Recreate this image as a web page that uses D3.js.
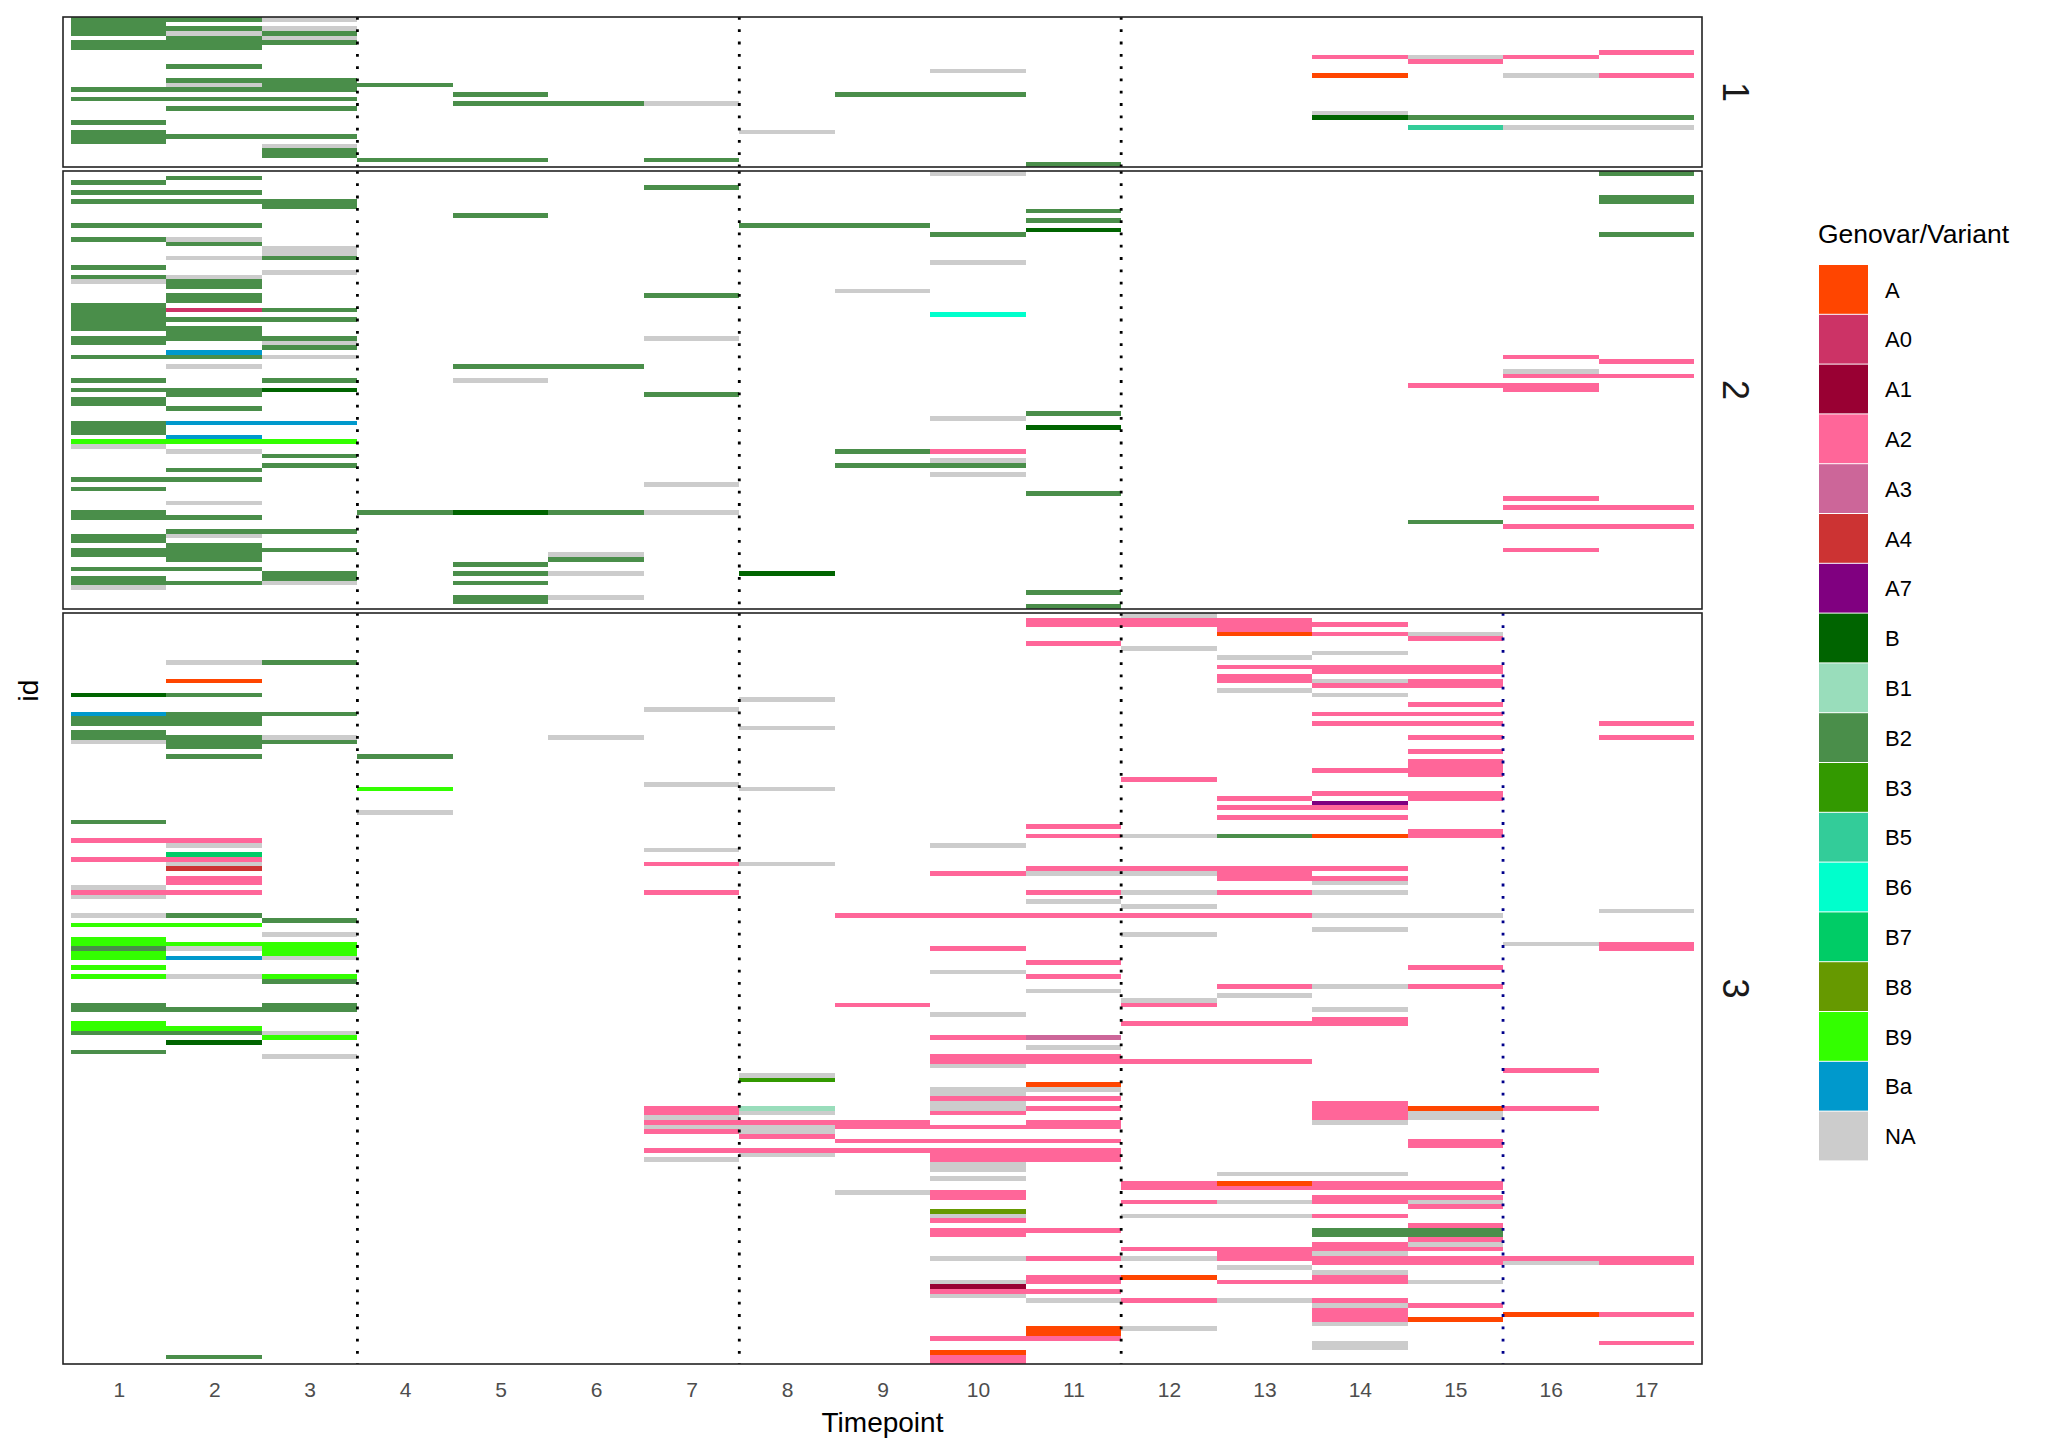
<!DOCTYPE html>
<html>
<head>
<meta charset="utf-8">
<script src="https://cdn.jsdelivr.net/npm/d3@7"></script>
<style>
  html, body { margin: 0; padding: 0; background: #fff; }
  svg { display: block; font-family: "Liberation Sans", Arial, Helvetica, sans-serif; }
</style>
</head>
<body>
<div id="chart"></div>
<script>
// x categories
const timepoints = [1, 2, 3, 4, 5, 6, 7, 8, 9, 10, 11, 12, 13, 14, 15, 16, 17];

// legend order + fills
const variants = ['A', 'A0', 'A1', 'A2', 'A3', 'A4', 'A7', 'B', 'B1', 'B2', 'B3', 'B5', 'B6', 'B7', 'B8', 'B9', 'Ba', 'NA'];
const variantColors = ['#FF4500', '#CC3366', '#990033', '#FF6699', '#CC6699', '#CC3333', '#800080', '#006400',
    '#99DDBB', '#4A8E4A', '#339900', '#33CC99', '#00FFCC', '#00CC66', '#669900', '#33FF00', '#0099CC', '#CCCCCC'];

// one char per timepoint in every id row, '.' = nothing sampled
const variantCodes = { 'A': 'A', '0': 'A0', '1': 'A1', '2': 'A2', '3': 'A3', '4': 'A4', '7': 'A7', 'B': 'B',
    'c': 'B1', 'g': 'B2', 'd': 'B3', 'e': 'B5', 'f': 'B6', 'h': 'B7', 'i': 'B8', 'j': 'B9', 'k': 'Ba', 'n': 'NA' };

// groups of 4 timepoints: 1-4 5-8 9-12 13-16 17
const group1Rows = [
    'ggn. .... .... .... .', 'g... .... .... .... .', 'ggn. .... .... .... .', 'gng. .... .... .... .',
    '.gn. .... .... .... .', 'ggg. .... .... .... .', 'gg.. .... .... .... .', '.... .... .... .... 2',
    '.... .... .... .2n2 .', '.... .... .... ..2. .', '.g.. .... .... .... .', '.... .... .n.. .... .',
    '.... .... .... .A.n 2', '.gg. .... .... .... .', '.ngg .... .... .... .', 'ggg. .... .... .... .',
    '.... g... gg.. .... .', 'ggg. .... .... .... .', '.... ggn. .... .... .', '.gg. .... .... .... .',
    '.... .... .... .n.. .', '.... .... .... .Bgg g', 'g... .... .... .... .', '.... .... .... ..en n',
    'g... ...n .... .... .', 'ggg. .... .... .... .', 'g... .... .... .... .', '..n. .... .... .... .',
    '..g. .... .... .... .', '..g. .... .... .... .', '...g g.g. .... .... .', '.... .... ..g. .... .'
];

const group2Rows = [
    '.... .... .n.. .... g', '.g.. .... .... .... .', 'g... .... .... .... .', '.... ..g. .... .... .',
    'gg.. .... .... .... .', '.... .... .... .... g', 'ggg. .... .... .... g', '..g. .... .... .... .',
    '.... .... ..g. .... .', '.... g... .... .... .', '.... .... ..g. .... .', 'gg.. ...g g... .... .',
    '.... .... ..B. .... .', '.... .... .g.. .... g', 'gn.. .... .... .... .', '.g.. .... .... .... .',
    '..n. .... .... .... .', '..n. .... .... .... .', '.ng. .... .... .... .', '.... .... .n.. .... .',
    'g... .... .... .... .', '..n. .... .... .... .', 'gn.. .... .... .... .', 'ng.. .... .... .... .',
    '.g.. .... .... .... .', '.... .... n... .... .', '.g.. ..g. .... .... .', '.g.. .... .... .... .',
    'g... .... .... .... .', 'g0g. .... .... .... .', 'g... .... .f.. .... .', 'ggg. .... .... .... .',
    'g... .... .... .... .', 'gg.. .... .... .... .', '.g.. .... .... .... .', 'ggg. ..n. .... .... .',
    'g.n. .... .... .... .', '..g. .... .... .... .', '.k.. .... .... .... .', 'ggn. .... .... ...2 .',
    '.... .... .... .... 2', '.n.. gg.. .... .... .', '.... .... .... ...n .', '.... .... .... ...2 2',
    'g.g. n... .... .... .', '.... .... .... ..22 .', 'ggB. .... .... ...2 .', '.g.. ..g. .... .... .',
    'g... .... .... .... .', 'g... .... .... .... .', '.g.. .... .... .... .', '.... .... ..g. .... .',
    '.... .... .n.. .... .', 'gkk. .... .... .... .', 'g... .... ..B. .... .', 'g... .... .... .... .',
    '.k.. .... .... .... .', 'jjj. .... .... .... .', 'n... .... .... .... .', '.n.. .... g2.. .... .',
    '..g. .... .... .... .', '.... .... .n.. .... .', '..g. .... gg.. .... .', '.g.. .... .... .... .',
    '.... .... .n.. .... .', 'gg.. .... .... .... .', '.... ..n. .... .... .', 'g... .... .... .... .',
    '.... .... ..g. .... .', '.... .... .... ...2 .', '.n.. .... .... .... .', '.... .... .... ...2 2',
    'g..g Bgn. .... .... .', 'gg.. .... .... .... .', '.... .... .... ..g. .', '.... .... .... ...2 2',
    '.gg. .... .... .... .', 'gn.. .... .... .... .', 'g... .... .... .... .', '.g.. .... .... .... .',
    'ggg. .... .... ...2 .', 'gg.. .n.. .... .... .', '.g.. .g.. .... .... .', '.... g... .... .... .',
    'gg.. .... .... .... .', '..g. gn.B .... .... .', 'g.g. .... .... .... .', 'ggn. g... .... .... .',
    'n... .... .... .... .', '.... .... ..g. .... .', '.... gn.. .... .... .', '.... g... .... .... .',
    '.... .... ..g. .... .'
];

const group3Rows = [
    '.... .... ...n .... .', '.... .... ..22 2... .', '.... .... ..22 22.. .', '.... .... .... 2... .',
    '.... .... .... A2n. .', '.... .... .... ..2. .', '.... .... ..2. .... .', '.... .... ...n .... .',
    '.... .... .... .n.. .', '.... .... .... n... .', '.ng. .... .... .... .', '.... .... .... 222. .',
    '.... .... .... .22. .', '.... .... .... 2... .', '.A.. .... .... 2n2. .', '.... .... .... .22. .',
    '.... .... .... n... .', 'Bg.. .... .... .n.. .', '.... ...n .... .... .', '.... .... .... ..2. .',
    '.... ..n. .... .... .', 'kgg. .... .... .22. .', 'gg.. .... .... .... .', 'gg.. .... .... .22. 2',
    '.... ...n .... .... .', 'g... .... .... .... .', 'ggn. .n.. .... ..2. 2', 'ngg. .... .... .... .',
    '.g.. .... .... .... .', '.... .... .... ..2. .', '.g.g .... .... .... .', '.... .... .... ..2. .',
    '.... .... .... ..2. .', '.... .... .... .22. .', '.... .... .... ..2. .', '.... .... ...2 .... .',
    '.... ..n. .... .... .', '...j ...n .... .... .', '.... .... .... .22. .', '.... .... .... 2.2. .',
    '.... .... .... .7.. .', '.... .... .... 22.. .', '...n .... .... .... .', '.... .... .... 22.. .',
    'g... .... .... .... .', '.... .... ..2. .... .', '.... .... .... ..2. .', '.... .... ..2n gA2. .',
    '22.. .... .... .... .', '.n.. .... .n.. .... .', '.... ..n. .... .... .', '.h.. .... .... .... .',
    '22.. .... .... .... .', '.n.. ..2n .... .... .', '.4.. .... ..22 22.. .', '.... .... .2nn 2... .',
    '.2.. .... .... 22.. .', '.2.. .... .... .n.. .', 'n... .... .... .... .', '22.. ..2. ..2n 2n.. .',
    'n... .... .... .... .', '.... .... ..n. .... .', '.... .... ...n .... .', '.... .... .... .... n',
    'ng.. .... 2222 2nn. .', '..g. .... .... .... .', 'jj.. .... .... .... .', '.... .... .... .n.. .',
    '..n. .... ...n .... .', 'j... .... .... .... .', 'jjj. .... .... ...n 2', 'gnj. .... .2.. .... 2',
    'j.j. .... .... .... .', 'jkn. .... .... .... .', '.... .... ..2. .... .', 'j... .... .... ..2. .',
    '.... .... .n.. .... .', 'jnj. .... ..2. .... .', '..g. .... .... .... .', '.... .... .... 2n2. .',
    '.... .... ..n. .... .', '.... .... .... n... .', '.... .... ...n .... .', 'g.g. .... 2..2 .... .',
    'ggg. .... .... .n.. .', '.... .... .n.. .... .', '.... .... .... .2.. .', 'j... .... ...2 22.. .',
    'jj.. .... .... .... .', 'ggn. .... .... .... .', '..j. .... .23. .... .', '.B.. .... .... .... .',
    '.... .... ..n. .... .', 'g... .... .... .... .', '..n. .... .22. .... .', '.... .... .222 2... .',
    '.... .... .n.. .... .', '.... .... .... ...2 .', '.... ...n .... .... .', '.... ...d .... .... .',
    '.... .... ..A. .... .', '.... .... .nn. .... .', '.... .... .n.. .... .', '.... .... .22. .... .',
    '.... .... .n.. .2.. .', '.... ..2c .n2. .2A2 .', '.... ..2n .2.. .2n. .', '.... ..n. .... .2n. .',
    '.... ..22 2.2. .n.. .', '.... ..nn 222. .... .', '.... ..2n .... .... .', '.... ...2 .... .... .',
    '.... .... 222. ..2. .', '.... .... .... ..2. .', '.... ..22 222. .... .', '.... ...n .22. .... .',
    '.... ..n. .22. .... .', '.... .... .n.. .... .', '.... .... .n.. .... .', '.... .... .... nn.. .',
    '.... .... .n.. .... .', '.... .... ...2 A22. .', '.... .... ...2 222. .', '.... .... n2.. .... .',
    '.... .... .2.. .22. .', '.... .... ...2 n2n. .', '.... .... .... ..2. .', '.... .... .i.. .... .',
    '.... .... .n.n n2.. .', '.... .... .2.. .... .', '.... .... .... ..2. .', '.... .... .22. .gg. .',
    '.... .... .2.. .gg. .', '.... .... .... ..2. .', '.... .... .... .2n. .', '.... .... ...2 222. .',
    '.... .... .... 2n.. .', '.... .... .n2n 2222 2', '.... .... .... .22n 2', '.... .... .... n... .',
    '.... .... .... .n.. .', '.... .... ..2A .2.. .', '.... .... .n2. 22n. .', '.... .... .1.. .... .',
    '.... .... .22. .... .', '.... .... .n.. .... .', '.... .... ..n2 n2.. .', '.... .... .... .n2. .',
    '.... .... .... .2.. .', '.... .... .... .2.A 2', '.... .... .... .2A. .', '.... .... .... .n.. .',
    '.... .... ..An .... .', '.... .... ..A. .... .', '.... .... .22. .... .', '.... .... .... .n.. 2',
    '.... .... .... .n.. .', '.... .... .A.. .... .', '.g.. .... .2.. .... .', '.... .... .2.. .... .'
];

// dotted phase lines, the last one only in group 3
const phaseBreaks = [3.5, 7.5, 11.5];
const lateBreak = 15.5;

const width = 2063;
const height = 1454;

const svg = d3.select('#chart')
    .append('svg')
    .attr('width', width)
    .attr('height', height);

const fill = d3.scaleOrdinal(variants, variantColors);

// panel box runs 63..1702, tiles start a little inside
const x = d3.scaleLinear()
    .domain([0.5 - 0.084, 17.5 + 0.084])
    .range([63, 1702]);

const panels = [
    { label: '1', rows: group1Rows, top: 17, bottom: 167, late: false },
    { label: '2', rows: group2Rows, top: 171, bottom: 609, late: false },
    { label: '3', rows: group3Rows, top: 613, bottom: 1364, late: true }
];

function rowTiles(rows) {
    const tiles = [];
    rows.forEach((row, i) => {
        row.replace(/ /g, '').split('').forEach((c, j) => {
            const v = variantCodes[c];
            if (v) tiles.push({ id: i, tp: timepoints[j], variant: v });
        });
    });
    return tiles;
}

panels.forEach(p => {
    const y = d3.scaleBand()
        .domain(d3.range(p.rows.length))
        .range([p.top, p.bottom]);

    const g = svg.append('g');

    // Tiles (crisp so stacked ids don't show seams)
    g.append('g')
        .attr('shape-rendering', 'crispEdges')
        .selectAll('rect')
        .data(rowTiles(p.rows))
        .enter()
        .append('rect')
        .attr('x', d => x(d.tp - 0.5))
        .attr('width', d => x(d.tp + 0.5) - x(d.tp - 0.5))
        .attr('y', d => y(d.id))
        .attr('height', y.bandwidth())
        .attr('fill', d => fill(d.variant));

    // Phase lines
    const breaks = phaseBreaks.map(b => ({ at: b, color: '#000000' }));
    if (p.late) breaks.push({ at: lateBreak, color: '#00008B' });

    g.selectAll('line.phase')
        .data(breaks)
        .enter()
        .append('line')
        .attr('x1', d => x(d.at))
        .attr('x2', d => x(d.at))
        .attr('y1', p.top)
        .attr('y2', p.bottom)
        .attr('stroke', d => d.color)
        .attr('stroke-width', 2.8)
        .attr('stroke-dasharray', '2.8 9.5');

    // Frame
    g.append('rect')
        .attr('x', x.range()[0])
        .attr('y', p.top)
        .attr('width', x.range()[1] - x.range()[0])
        .attr('height', p.bottom - p.top)
        .attr('fill', 'none')
        .attr('stroke', '#222')
        .attr('stroke-width', 1.6);

    // Strip label
    const cy = (p.top + p.bottom) / 2;
    g.append('text')
        .attr('transform', `translate(1736,${cy}) rotate(90)`)
        .attr('text-anchor', 'middle')
        .attr('dy', '0.35em')
        .attr('font-size', 36)
        .attr('fill', '#1A1A1A')
        .text(p.label);
});

// X axis labels
const axis = svg.append('g')
    .attr('transform', `translate(0,${panels[2].bottom})`)
    .call(d3.axisBottom(x).tickValues(timepoints).tickSize(0).tickPadding(18));
axis.select('.domain').remove();
axis.selectAll('text')
    .attr('font-size', 21)
    .attr('font-family', '"Liberation Sans", Arial, sans-serif')
    .attr('fill', '#4D4D4D');

svg.append('text')
    .attr('x', (x.range()[0] + x.range()[1]) / 2)
    .attr('y', 1432)
    .attr('text-anchor', 'middle')
    .attr('font-size', 28)
    .text('Timepoint');

svg.append('text')
    .attr('transform', `translate(38,${(panels[0].top + panels[2].bottom) / 2}) rotate(-90)`)
    .attr('text-anchor', 'middle')
    .attr('font-size', 28)
    .text('id');

// Legend
const legend = svg.append('g').attr('transform', 'translate(1819,265)');
const keyH = 49.8;

legend.append('text')
    .attr('x', -1)
    .attr('y', -22)
    .attr('font-size', 26.5)
    .text('Genovar/Variant');

const key = legend.selectAll('g.key')
    .data(variants)
    .enter()
    .append('g')
    .attr('class', 'key')
    .attr('transform', (d, i) => `translate(0,${i * keyH})`);

key.append('rect')
    .attr('width', 49)
    .attr('height', keyH - 1)
    .attr('fill', d => fill(d));

key.append('text')
    .attr('x', 66)
    .attr('y', keyH / 2)
    .attr('dy', '0.35em')
    .attr('font-size', 22)
    .text(d => d);
</script>
</body>
</html>
